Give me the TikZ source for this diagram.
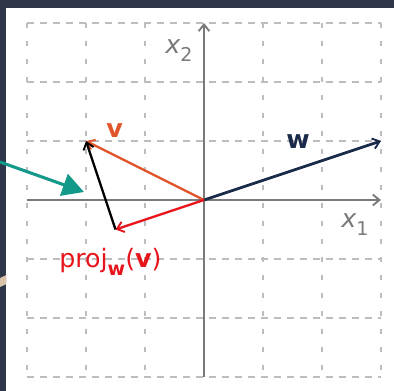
\documentclass[tikz,border=0pt]{standalone}
\usepackage{fontspec}
\setmainfont{DejaVu Sans}
\usetikzlibrary{arrows.meta}
\definecolor{bgdark}{HTML}{2E3649}
\definecolor{gridgray}{HTML}{BDBDBD}
\definecolor{axisgray}{HTML}{7A7A7A}
\definecolor{vorange}{HTML}{E0552B}
\definecolor{pred}{HTML}{E8141B}
\definecolor{wnavy}{HTML}{1B2A4A}
\definecolor{tealc}{HTML}{12998A}
\definecolor{beige}{HTML}{D9C3AA}
\newcommand\mysub[1]{\raisebox{-0.28em}{\scalebox{0.75}{#1}}}
\tikzset{
  gridh/.style={gridgray, line width=0.9pt, dash pattern=on 5.25pt off 4.5pt},
  gridv/.style={gridgray, line width=0.9pt, dash pattern=on 3.75pt off 9.75pt},
  axisline/.style={axisgray, line width=1.8pt, -{Straight Barb[length=5pt,width=8pt,line width=1.4pt]}},
  vecline/.style={line width=1.7pt, -{Straight Barb[length=5pt,width=8pt,line width=1.4pt]}},
  lbl/.style={inner sep=0pt, anchor=base west, font=\fontsize{19pt}{22pt}\selectfont},
}
\begin{document}
\begin{tikzpicture}[x=0.75pt,y=-0.75pt]
\useasboundingbox (0,0) rectangle (394,391);
\fill[bgdark] (0,0) rectangle (394,391);
\fill[white] (6.5,8) rectangle (394,391);
\fill[beige] (0,287) -- (0,278) -- (6.5,275) -- (6.5,284) -- cycle;
% grid
\foreach \x in {27,86,145,263,322,381} \draw[gridv] (\x,23) -- (\x,377);
\foreach \y in {23,82,141,259,318,377} \draw[gridh] (27,\y) -- (381,\y);
% coordinates
\coordinate (O) at (204,200);
\coordinate (xl) at (27,200);
\coordinate (xr) at (381,200);
\coordinate (yb) at (204,377);
\coordinate (yt) at (204,23);
\coordinate (V) at (86,141);
\coordinate (W) at (381,141);
\coordinate (P) at (115.5,229.5);
\coordinate (T0) at (0,162);
\coordinate (T1) at (84,192);
% axes
\draw[axisline] (xl) -- (xr);
\draw[axisline] (yb) -- (yt);
% vectors
\draw[vecline, wnavy, line width=2.1pt] (O) -- (W);
\draw[vecline, vorange] (O) -- (V);
\draw[vecline, pred] (O) -- (P);
\draw[vecline, black] (P) -- (V);
% teal pointer
\draw[tealc, line width=2.3pt, -{Triangle[length=16pt,width=17pt]}] (T0) -- (T1);
% labels
\node[lbl, text=axisgray] (x2) at (165,54) {\textit{x}\mysub{2}};
\node[lbl, text=axisgray] (x1) at (341,228) {\textit{x}\mysub{1}};
\node[lbl, text=vorange] (vl) at (106,138) {\textbf{v}};
\node[lbl, text=wnavy] (wl) at (286,149) {\textbf{w}};
\node[lbl, text=pred] (pl) at (59,268) {proj\mysub{\textbf{w}}(\textbf{v})};
\end{tikzpicture}
\end{document}
